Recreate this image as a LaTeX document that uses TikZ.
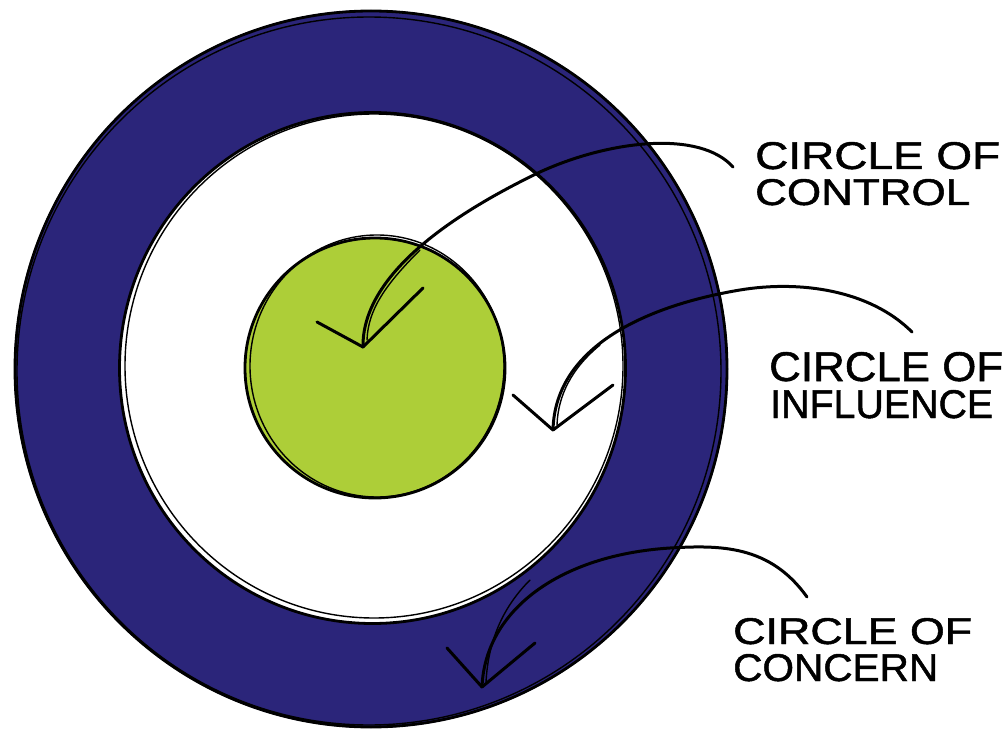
\documentclass[tikz,border=0pt]{standalone}
\usepackage{fontspec}
\setmainfont{Liberation Sans}
\newfontfamily\handfont[FakeBold=1.2]{Liberation Sans}
\definecolor{navy}{RGB}{43,37,122}
\definecolor{lime}{RGB}{173,206,56}
\tikzset{
  sketch/.style={draw=black, line width=2.8pt},
  sketchthin/.style={draw=black, line width=1.4pt},
  pointer/.style={draw=black, line width=3pt, line cap=round, line join=round},
  pointerthin/.style={draw=black, line width=1.4pt, line cap=round},
  lbl/.style={anchor=base west, inner sep=0pt, text=black, font=\handfont}
}
\begin{document}
\begin{tikzpicture}[x=1pt,y=-1pt]
\useasboundingbox (0,0) rectangle (1005,733);
\fill[white] (0,0) rectangle (1005,733);
% outer ring
\fill[navy] (371,369) ellipse [x radius=357, y radius=359];
\fill[white] (372.5,368) ellipse [x radius=252.5, y radius=255];
% green circle
\fill[lime] (375,368) circle [radius=130];
% sketchy outlines
\draw[sketch] (371,369) ellipse [x radius=356, y radius=358];
\draw[sketchthin] (369,371) ellipse [x radius=352, y radius=354];
\draw[sketch] (372.5,368) ellipse [x radius=253, y radius=255.5];
\draw[sketchthin] (374,366) ellipse [x radius=249, y radius=252];
\draw[sketch] (375,368) circle [radius=130];
\draw[sketchthin] (377,366) ellipse [x radius=127, y radius=131];
% labels
\node[lbl] (ctrlA) at (755,169) {\resizebox{245pt}{27pt}{CIRCLE OF}};
\node[lbl] (ctrlB) at (755,205) {\resizebox{215pt}{26pt}{CONTROL}};
\node[lbl] (inflA) at (769,381) {\resizebox{234pt}{29pt}{CIRCLE OF}};
\node[lbl] (inflB) at (770,418) {\resizebox{223pt}{28pt}{INFLUENCE}};
\node[lbl] (concA) at (733,644) {\resizebox{239pt}{26pt}{CIRCLE OF}};
\node[lbl] (concB) at (733,681) {\resizebox{205pt}{27pt}{CONCERN}};
% arrow anchor coordinates
\coordinate (ctrlS) at (733,167);
\coordinate (ctrlT) at (363,347);
\coordinate (ctrlL) at (317,322);
\coordinate (ctrlR) at (423,288);
\coordinate (inflS) at (912,332);
\coordinate (inflT) at (553,430);
\coordinate (inflL) at (513,395);
\coordinate (inflR) at (613,385);
\coordinate (concS) at (807,597);
\coordinate (concT) at (482,687);
\coordinate (concL) at (447,648);
\coordinate (concR) at (535,643);
% control arrow
\draw[pointer] (ctrlS) .. controls (700,130) and (610,140) .. (540,172)
  .. controls (440,220) and (362,280) .. (ctrlT);
\draw[pointerthin] (420,250) .. controls (385,285) and (368,310) .. (367,340);
\draw[pointer] (ctrlL) -- (ctrlT) -- (ctrlR);
% influence arrow
\draw[pointer] (inflS) .. controls (870,290) and (800,280) .. (740,290)
  .. controls (650,305) and (555,345) .. (inflT);
\draw[pointerthin] (600,345) .. controls (572,368) and (558,395) .. (557,425);
\draw[pointer] (inflL) -- (inflT) -- (inflR);
% concern arrow
\draw[pointer] (concS) .. controls (770,545) and (720,545) .. (670,548)
  .. controls (560,555) and (485,610) .. (concT);
\draw[pointerthin] (530,580) .. controls (500,610) and (488,645) .. (486,682);
\draw[pointer] (concL) -- (concT) -- (concR);
\end{tikzpicture}
\end{document}
